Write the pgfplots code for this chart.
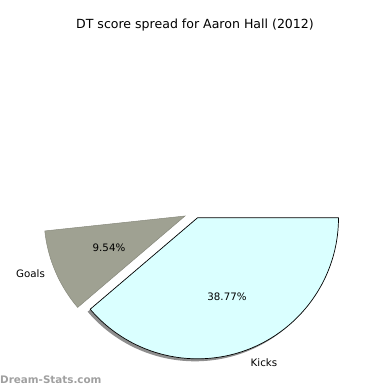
\documentclass[border=0pt]{standalone}
\usepackage{fontspec}
\setmainfont{DejaVu Sans}
\usepackage{pgfplots}
\pgfplotsset{compat=1.18}
\definecolor{goalsc}{HTML}{9FA192}
\definecolor{kicksc}{HTML}{DAFFFF}
\definecolor{shadowc}{HTML}{8E8E8E}
\definecolor{wmark}{HTML}{A0A0A0}
% data (percent of score)
\pgfmathsetmacro{\kicks}{38.77}
\pgfmathsetmacro{\goals}{9.54}
\pgfmathsetmacro{\ka}{-3.6*\kicks}
\pgfmathsetmacro{\ga}{\ka-3.6*\goals}
\begin{document}
\begin{tikzpicture}
\begin{axis}[width=390bp,height=390bp,scale only axis,
  xmin=0,xmax=390,ymin=0,ymax=390,hide axis,clip=false]
\path (axis cs:0,0) rectangle (axis cs:390,390);
% Kicks shadow
\fill[shadowc] (axis cs:195,169.7) -- ++(0:141bp) arc[start angle=0,end angle=\ka,radius=141bp] -- cycle;
% Kicks
\filldraw[fill=kicksc,draw=black,line width=0.7bp,line join=round] (axis cs:197.5,172.2) -- ++(0:141bp) arc[start angle=0,end angle=\ka,radius=141bp] -- cycle;
% Goals (exploded)
\filldraw[fill=goalsc,draw=goalsc!85!black,line width=0.5bp] (axis cs:185,174) -- ++(\ka:141bp) arc[start angle=\ka,end angle=\ga,radius=141bp] -- cycle;
\node[font=\fontsize{12.6}{14}\selectfont] at (axis cs:195,364.5) {DT score spread for Aaron Hall (2012)};
\node[font=\fontsize{10.3}{12}\selectfont] at (axis cs:109,142) {9.54\%};
\node[font=\fontsize{10.3}{12}\selectfont] at (axis cs:30.5,116) {Goals};
\node[font=\fontsize{10.3}{12}\selectfont] at (axis cs:227,93) {38.77\%};
\node[font=\fontsize{10.3}{12}\selectfont] at (axis cs:264,27) {Kicks};
\node[font=\fontsize{10.4}{12}\selectfont\bfseries,text=wmark,anchor=west,inner sep=0pt] at (axis cs:0,10) {Dream-Stats.com};
\end{axis}
\end{tikzpicture}
\end{document}
